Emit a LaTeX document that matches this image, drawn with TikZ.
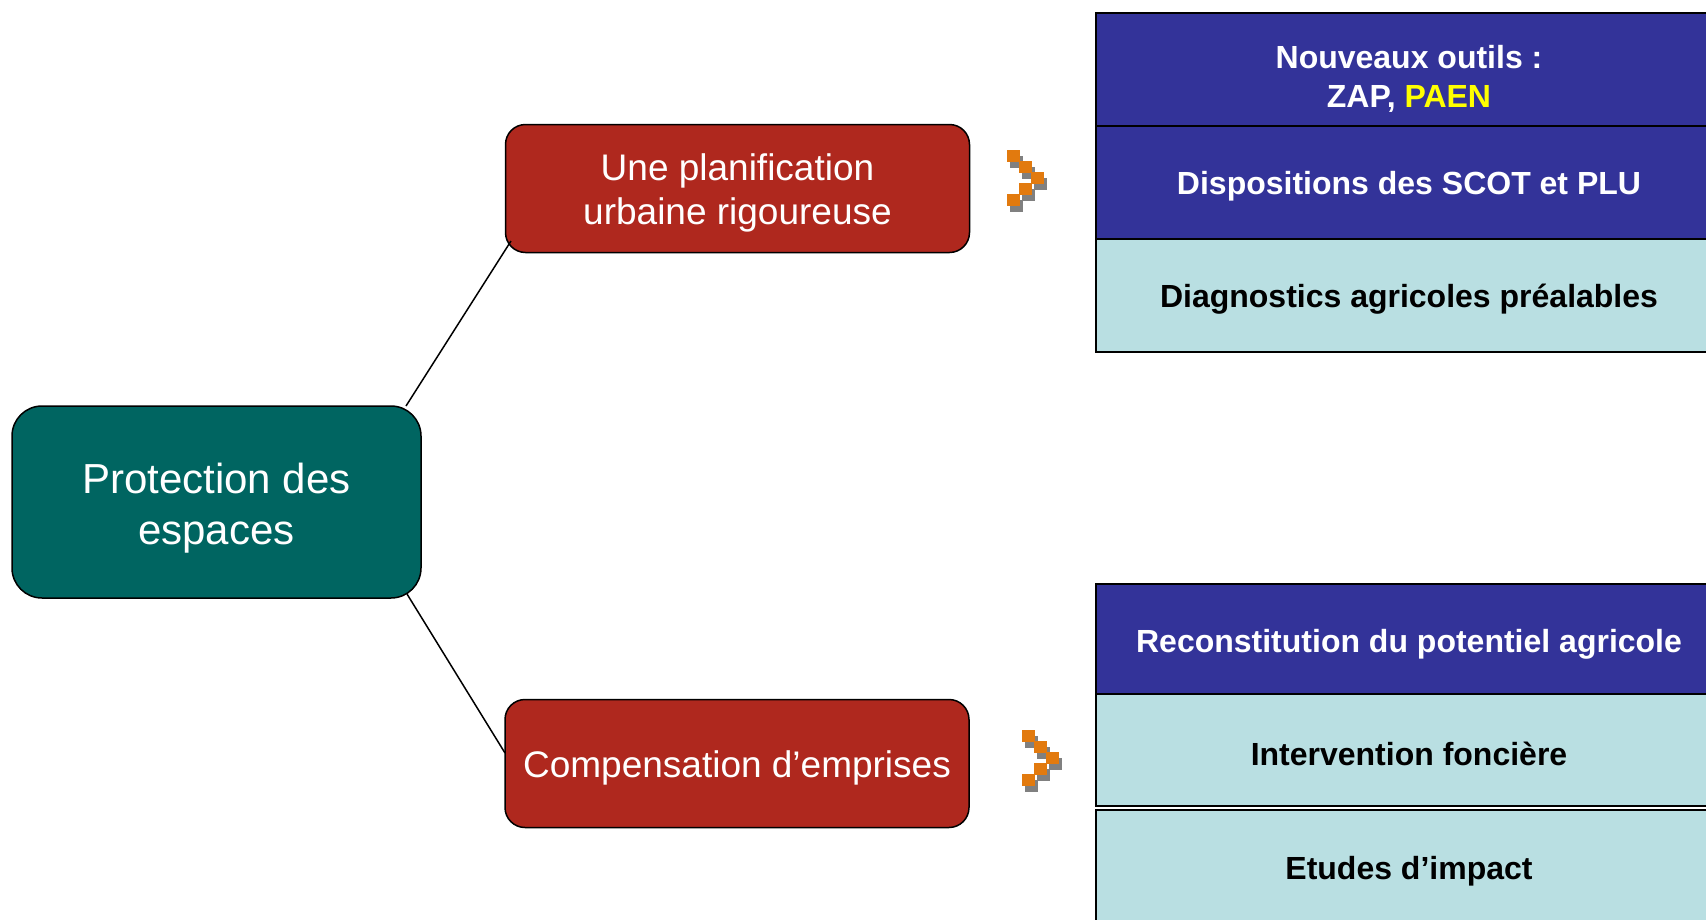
\documentclass[tikz,border=0pt]{standalone}
\usepackage{fontspec}
\setmainfont{Liberation Sans}
\definecolor{rootcol}{HTML}{006561}
\definecolor{redcol}{HTML}{AF281E}
\definecolor{dblue}{HTML}{333399}
\definecolor{lcyan}{HTML}{B9DFE2}
\definecolor{orangesq}{HTML}{E27A0E}
\definecolor{graysq}{HTML}{808080}
\definecolor{yelcol}{HTML}{FFFF00}
\tikzset{
  rootbox/.style={draw=black, line width=1.5pt, fill=rootcol, rounded corners=30pt,
    minimum width=409pt, minimum height=192pt, text=white, align=center,
    font=\fontsize{42}{51}\selectfont},
  redbox/.style={draw=black, line width=1.5pt, fill=redcol, rounded corners=20pt,
    minimum width=464pt, minimum height=128pt, text=white, align=center,
    font=\fontsize{37}{43.5}\selectfont},
  rowbox/.style={draw=black, line width=2pt, minimum width=626pt, inner sep=0pt},
  rowtxt/.style={align=center, font=\bfseries\fontsize{32}{39}\selectfont},
  conn/.style={draw=black, line width=1.5pt},
  sq/.style={fill=orangesq},
  sqs/.style={fill=graysq},
  pics/chev/.style={code={
    \foreach \dx/\dy in {0/0,12/11,24/22,12/33,0/44}{
      \fill[sqs] (\dx+3,\dy+6) rectangle ++(13,12);
      \fill[sq] (\dx,\dy) rectangle ++(13,12);
    }
  }}
}
\begin{document}
\begin{tikzpicture}[x=1pt,y=-1pt]
\clip (0,0) rectangle (1706,919);
\fill[white] (0,0) rectangle (1706,919);

% main nodes
\node[rootbox] (root) at (216.5,502) {};
\node[redbox] (plan) at (737.5,188.5) {};
\node[redbox] (comp) at (737,763.5) {};
\node[rootbox, draw=none, fill=none] (roott) at (216.5,508) {Protection des\\espaces};
\node[redbox, draw=none, fill=none] (plant) at (737.5,193) {Une planification\\urbaine rigoureuse};
\node[redbox, draw=none, fill=none] (compt) at (737,768) {Compensation d’emprises};

% connectors
\coordinate (rootA) at (406,406);
\coordinate (rootB) at (407,594);
\coordinate (planA) at (511,241);
\coordinate (compA) at (505,753);
\draw[conn] (rootA) -- (planA);
\draw[conn] (rootB) -- (compA);

% arrow glyphs
\pic at (1007,150) {chev};
\pic at (1022,730) {chev};

% top table
\node[rowbox, fill=dblue, minimum height=113pt] (r1) at (1409,69.5) {};
\node[rowbox, fill=dblue, minimum height=113pt] (r2) at (1409,182.5) {};
\node[rowbox, fill=lcyan, minimum height=113pt] (r3) at (1409,295.5) {};
\node[rowtxt, text=white] (t1) at (1409,79) {Nouveaux outils :\\ZAP, \textcolor{yelcol}{PAEN}};
\node[rowtxt, text=white] (t2) at (1409,186) {Dispositions des SCOT et PLU};
\node[rowtxt, text=black] (t3) at (1409,299.5) {Diagnostics agricoles préalables};

% bottom table
\node[rowbox, fill=dblue, minimum height=110pt] (b1) at (1409,639) {};
\node[rowbox, fill=lcyan, minimum height=112pt] (b2) at (1409,750) {};
\node[rowbox, fill=lcyan, minimum height=120pt] (b3) at (1409,870) {};
\node[rowtxt, text=white] (u1) at (1409,644) {Reconstitution du potentiel agricole};
\node[rowtxt, text=black] (u2) at (1409,754) {Intervention foncière};
\node[rowtxt, text=black] (u3) at (1409,871) {Etudes d’impact};
\end{tikzpicture}
\end{document}
